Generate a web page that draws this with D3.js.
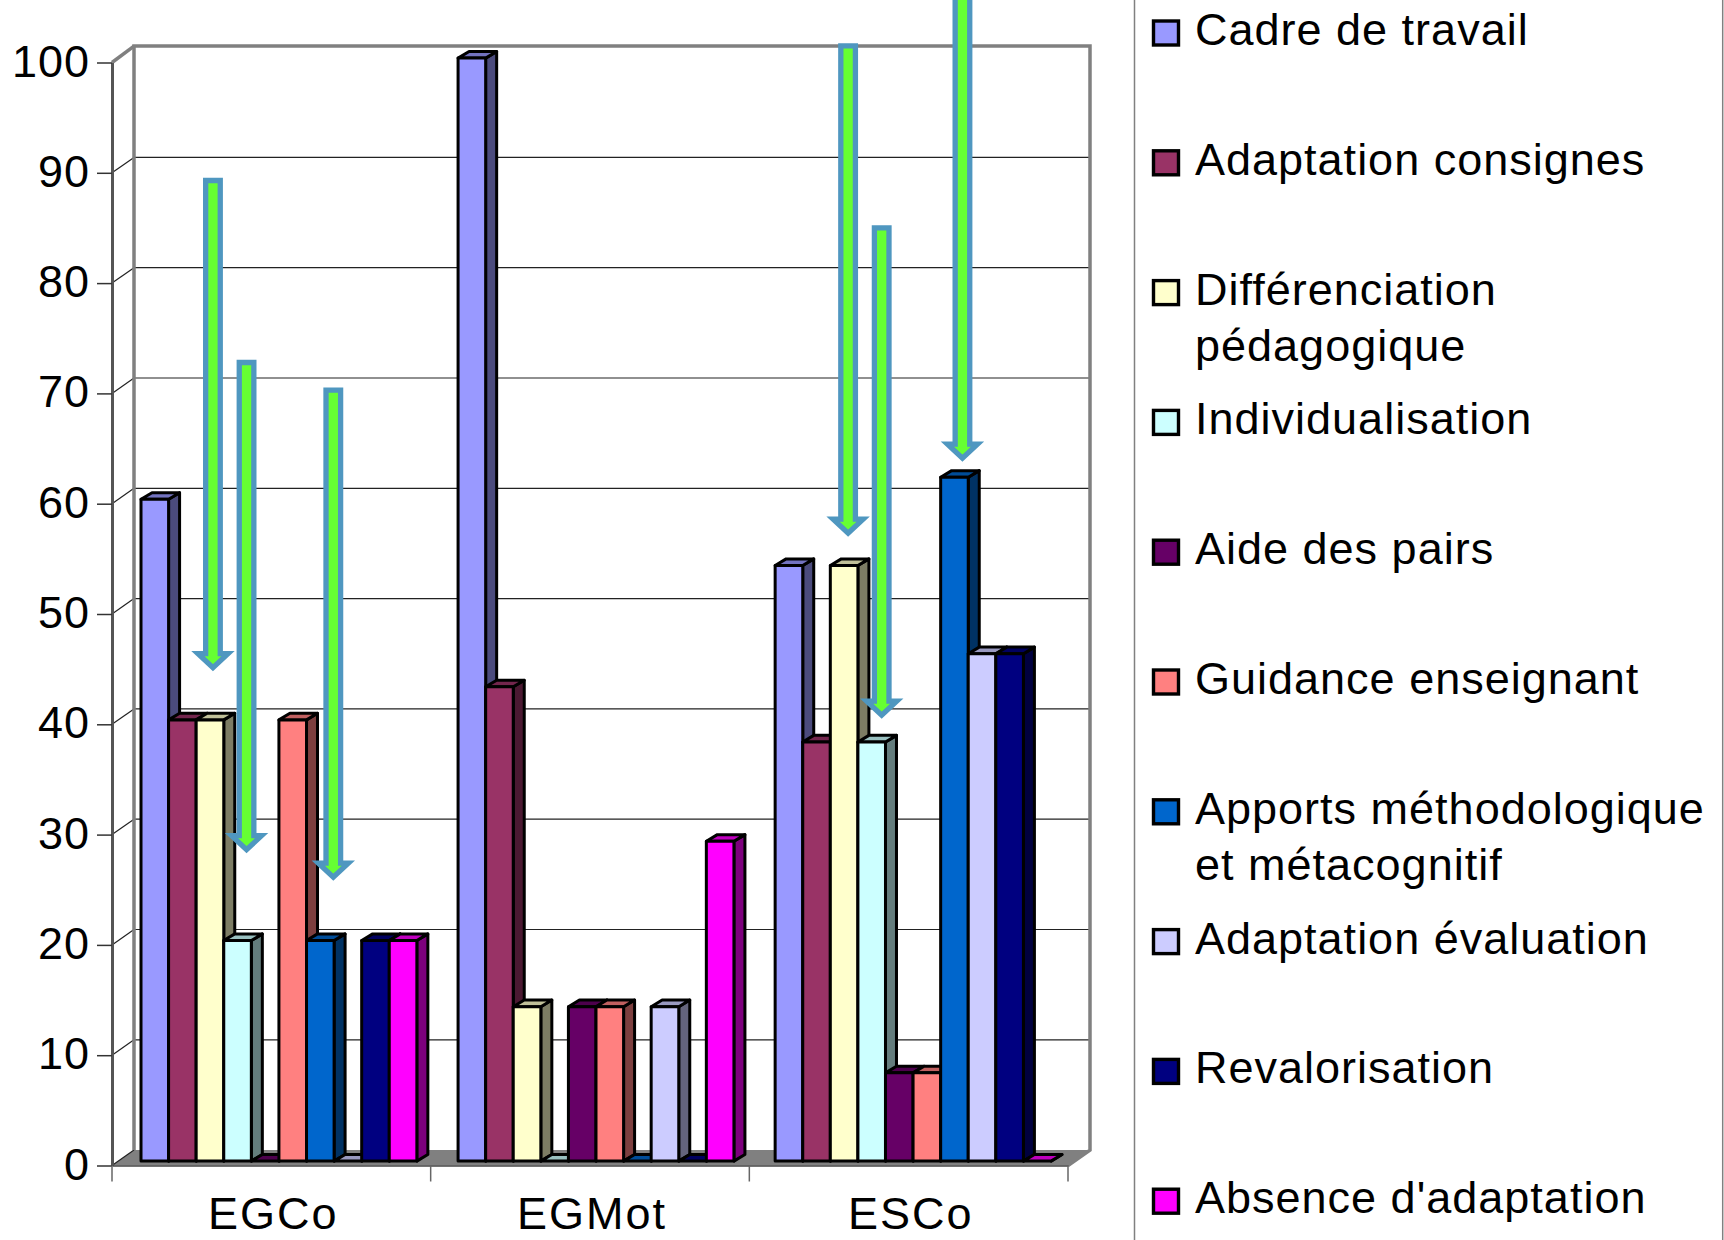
<!DOCTYPE html>
<html>
<head>
<meta charset="utf-8">
<script src="https://cdn.jsdelivr.net/npm/d3@7"></script>
<style>
  html, body { margin: 0; padding: 0; background: #fff; overflow: hidden; }
  text { font-family: "Liberation Sans", Arial, sans-serif; fill: #000; }
</style>
</head>
<body>
<div id="chart-area"></div>
<script>
const WIDTH = 1724
const HEIGHT = 1240

const groups = ["EGCo", "EGMot", "ESCo"]
const seriesNames = ["Cadre de travail", "Adaptation consignes", "Différenciation\npédagogique",
  "Individualisation", "Aide des pairs", "Guidance enseignant",
  "Apports méthodologique\net métacognitif", "Adaptation évaluation", "Revalorisation", "Absence d'adaptation"]
const seriesColors = ["#9999ff", "#993366", "#ffffcc", "#ccffff", "#660066", "#ff8080", "#0066cc", "#ccccff", "#000080", "#ff00ff"]

const egco = [60, 40, 40, 20, 0, 40, 20, 0, 20, 20]
const egmot = [100, 43, 14, 0, 14, 14, 0, 14, 0, 29]
const esco = [54, 38, 54, 38, 8, 8, 62, 46, 46, 0]
const groupValues = [egco, egmot, esco]

const yTicks = [0, 10, 20, 30, 40, 50, 60, 70, 80, 90, 100]

// the arrows stuck on top of the chart: which bar they point at, value at the tip
const arrowGroups = ["EGCo", "EGCo", "EGCo", "ESCo", "ESCo", "ESCo"]
const arrowSeries = [2, 3, 6, 2, 3, 6]
const arrowTips = [45, 28.5, 26, 57.2, 40.7, 64]

const FRONT = { LEFT: 112, RIGHT: 1068 }
const WALL = { DX: 22, DY: -15.4 }
const BAR = { DX: 11, DY: -6.6, BASE: -4.4 }
const ARROW_LEN = 44.3          // in axis units
const ARROW_SHIFT = [3, 9, 13, 4, 10, 8]

const svg = d3.select("#chart-area").append("svg")
  .attr("width", WIDTH)
  .attr("height", HEIGHT)
  .style("display", "block")

const y = d3.scaleLinear().domain([0, 100]).range([1165.5, 62.5])
const x = d3.scaleBand().domain(groups).range([FRONT.LEFT, FRONT.RIGHT])
const xGroup = d3.scaleBand().domain(groups).range([141, 1051]).paddingInner(0.13)
const xBar = d3.scaleBand().domain(d3.range(seriesNames.length)).range([0, xGroup.bandwidth()])

const yBot = y(0)
const yTop = y(100) + WALL.DY - 1

// back wall, side wall, floor
const wall = svg.append("g")
wall.append("polygon")
  .attr("points", [[FRONT.LEFT, yBot], [FRONT.LEFT + WALL.DX, yBot + WALL.DY],
    [FRONT.RIGHT + WALL.DX, yBot + WALL.DY], [FRONT.RIGHT, yBot]].join(" "))
  .attr("fill", "#808080")

wall.selectAll(".grid").data(yTicks.slice(1, -1)).enter().append("line")
  .attr("class", "grid")
  .attr("x1", FRONT.LEFT + WALL.DX)
  .attr("x2", FRONT.RIGHT + WALL.DX)
  .attr("y1", d => y(d) + WALL.DY)
  .attr("y2", d => y(d) + WALL.DY)
  .attr("stroke", "#222")
  .attr("stroke-width", 1.2)

// diagonals on the side wall, the top one belongs to the wall frame
wall.selectAll(".diag").data(yTicks).enter().append("line")
  .attr("class", "diag")
  .attr("x1", FRONT.LEFT)
  .attr("x2", FRONT.LEFT + WALL.DX)
  .attr("y1", d => y(d))
  .attr("y2", d => d === 100 ? yTop : y(d) + WALL.DY)
  .attr("stroke", d => d === 100 ? "#808080" : "#222")
  .attr("stroke-width", d => d === 100 ? 3.5 : 1.2)

wall.append("path")
  .attr("d", `M${FRONT.LEFT + WALL.DX},${yBot + WALL.DY}V${yTop}H${FRONT.RIGHT + WALL.DX}V${yBot + WALL.DY}L${FRONT.RIGHT},${yBot}`)
  .attr("fill", "none")
  .attr("stroke", "#808080")
  .attr("stroke-width", 3.5)

// y axis
const yAxisGroup = svg.append("g")
  .attr("transform", `translate(${FRONT.LEFT}, 0)`)
  .call(d3.axisLeft(y).tickValues(yTicks).tickSize(15).tickPadding(7).tickSizeOuter(0))
yAxisGroup.select(".domain").attr("stroke", "#555").attr("stroke-width", 3)
yAxisGroup.selectAll(".tick line").attr("stroke", "#333").attr("stroke-width", 1.5)
yAxisGroup.selectAll("text")
  .attr("font-size", 45)
  .attr("font-family", "Liberation Sans")
  .attr("letter-spacing", 1)
  .attr("dy", "0.3em")

// x axis, ticks sit between the groups
const xAxisGroup = svg.append("g")
  .attr("transform", `translate(0, ${yBot})`)
  .call(d3.axisBottom(x).tickSize(0).tickPadding(32))
xAxisGroup.select(".domain").attr("stroke", "#444").attr("stroke-width", 1.5)
xAxisGroup.selectAll("text")
  .attr("font-size", 45)
  .attr("font-family", "Liberation Sans")
  .attr("letter-spacing", 2)
  .attr("dx", 2)
  .attr("dy", "0.69em")
xAxisGroup.selectAll(".edge").data(d3.range(groups.length + 1)).enter().append("line")
  .attr("class", "edge")
  .attr("x1", i => FRONT.LEFT + i * x.step())
  .attr("x2", i => FRONT.LEFT + i * x.step())
  .attr("y1", 0)
  .attr("y2", 16)
  .attr("stroke", "#666")
  .attr("stroke-width", 1.5)

// bars, left to right so each one covers the side of the previous
groups.forEach((group, g) => {
  const barG = svg.append("g").attr("transform", `translate(${xGroup(group)}, ${BAR.BASE})`)
  groupValues[g].forEach((value, s) => {
    const color = d3.color(seriesColors[s])
    const x0 = xBar(s)
    const x1 = x0 + xBar.bandwidth()
    const top = y(value)
    const one = barG.append("g")
      .attr("stroke", "#000")
      .attr("stroke-width", 3)
      .attr("stroke-linejoin", "round")
    // side
    one.append("polygon")
      .attr("points", [[x1, top], [x1 + BAR.DX, top + BAR.DY], [x1 + BAR.DX, yBot + BAR.DY], [x1, yBot]].join(" "))
      .attr("fill", color.darker(2))
    // top
    one.append("polygon")
      .attr("points", [[x0, top], [x0 + BAR.DX, top + BAR.DY], [x1 + BAR.DX, top + BAR.DY], [x1, top]].join(" "))
      .attr("fill", color.darker(0.8))
    // front, nothing for a zero value
    if (value > 0) {
      one.append("rect")
        .attr("x", x0)
        .attr("y", top)
        .attr("width", x1 - x0)
        .attr("height", yBot - top)
        .attr("fill", color)
    }
  })
})

// arrows
const arrow = d3.line()
arrowTips.forEach((tip, i) => {
  const cx = xGroup(arrowGroups[i]) + xBar(arrowSeries[i]) + xBar.bandwidth() / 2 + ARROW_SHIFT[i]
  const tipY = y(tip) - 1.5
  const topY = y(tip + ARROW_LEN)
  const neckY = tipY - 14
  svg.append("path")
    .attr("d", arrow([[cx - 7.3, topY], [cx + 7.3, topY], [cx + 7.3, neckY], [cx + 15, neckY], [cx, tipY],
      [cx - 15, neckY], [cx - 7.3, neckY]]) + "Z")
    .attr("fill", "#66ff33")
    .attr("stroke", "#4f97c0")
    .attr("stroke-width", 5.3)
})

// legend frame lines
svg.append("line")
  .attr("x1", 1134.5).attr("x2", 1134.5)
  .attr("y1", 0).attr("y2", HEIGHT)
  .attr("stroke", "#808080")
  .attr("stroke-width", 1.5)
svg.append("line")
  .attr("x1", 1722.7).attr("x2", 1722.7)
  .attr("y1", 0).attr("y2", HEIGHT)
  .attr("stroke", "#808080")
  .attr("stroke-width", 1.5)

const legend = svg.append("g").attr("transform", "translate(1152, 33)")
seriesNames.forEach((name, i) => {
  const legendRow = legend.append("g").attr("transform", `translate(0, ${i * 129.8})`)
  legendRow.append("rect")
    .attr("x", 1.5)
    .attr("y", -12)
    .attr("width", 25)
    .attr("height", 24)
    .attr("fill", seriesColors[i])
    .attr("stroke", "#000")
    .attr("stroke-width", 3.4)
  name.split("\n").forEach((line, l) => {
    legendRow.append("text")
      .attr("x", 43)
      .attr("y", 12 + l * 56)
      .attr("font-size", 45)
      .attr("letter-spacing", 1)
      .text(line)
  })
})
</script>
</body>
</html>
